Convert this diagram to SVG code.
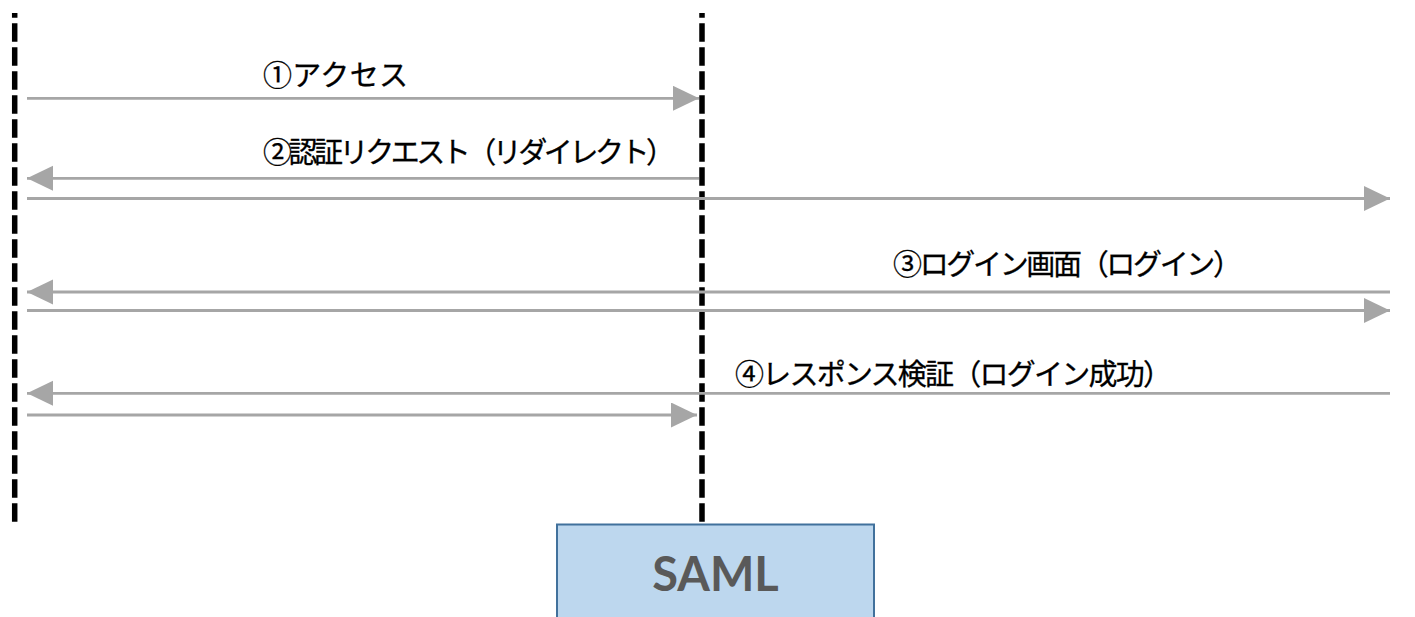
<svg xmlns="http://www.w3.org/2000/svg" width="1415" height="617" viewBox="0 0 1415 617">
<style>
.life{stroke:#000;stroke-width:5.5;stroke-dasharray:18.5 5.5;stroke-dashoffset:13.7;fill:none}
.msg{stroke:#a6a6a6;stroke-width:2.8;fill:none}
.lbl{font-family:"Noto Sans CJK JP","Noto Sans",sans-serif;font-size:29px;fill:#000;stroke:#000;stroke-width:0.3}
.box{fill:#bdd7ee;stroke:#41719c;stroke-width:2}
.boxt{font-family:Lato,"Liberation Sans",sans-serif;font-weight:bold;font-size:47px;fill:#595959}
</style>
<defs>
<marker id="ah" markerUnits="userSpaceOnUse" markerWidth="27" markerHeight="26" refX="26" refY="12.5" orient="auto">
<path d="M0,0 L26,12.5 L0,25 Z" fill="#a6a6a6"/>
</marker>
</defs>
<g id="lifelines">
<line class="life" x1="14.7" y1="13" x2="14.7" y2="523"/>
<line class="life" x1="702" y1="13" x2="702" y2="524"/>
</g>
<g id="connectors">
<line class="msg" x1="27" y1="98.3" x2="699" y2="98.3" marker-end="url(#ah)"/>
<line class="msg" x1="699" y1="178.3" x2="27" y2="178.3" marker-end="url(#ah)"/>
<line class="msg" x1="27" y1="198.5" x2="1390" y2="198.5" marker-end="url(#ah)"/>
<line class="msg" x1="1390" y1="292" x2="27" y2="292" marker-end="url(#ah)"/>
<line class="msg" x1="27" y1="310.5" x2="1390" y2="310.5" marker-end="url(#ah)"/>
<line class="msg" x1="1390" y1="393.3" x2="27" y2="393.3" marker-end="url(#ah)"/>
<line class="msg" x1="27" y1="415" x2="697" y2="415" marker-end="url(#ah)"/>
</g>
<g id="labels">
<text class="lbl" x="263" y="86" textLength="145">①アクセス</text>
<text class="lbl" x="263" y="163" textLength="412">②認証リクエスト（リダイレクト）</text>
<text class="lbl" x="893" y="275" textLength="349">③ログイン画面（ログイン）</text>
<text class="lbl" x="735" y="385" textLength="437">④レスポンス検証（ログイン成功）</text>
</g>
<g id="saml">
<rect class="box" x="557" y="524.5" width="317" height="100"/>
<text class="boxt" x="715.5" y="591" text-anchor="middle">SAML</text>
</g>
</svg>
